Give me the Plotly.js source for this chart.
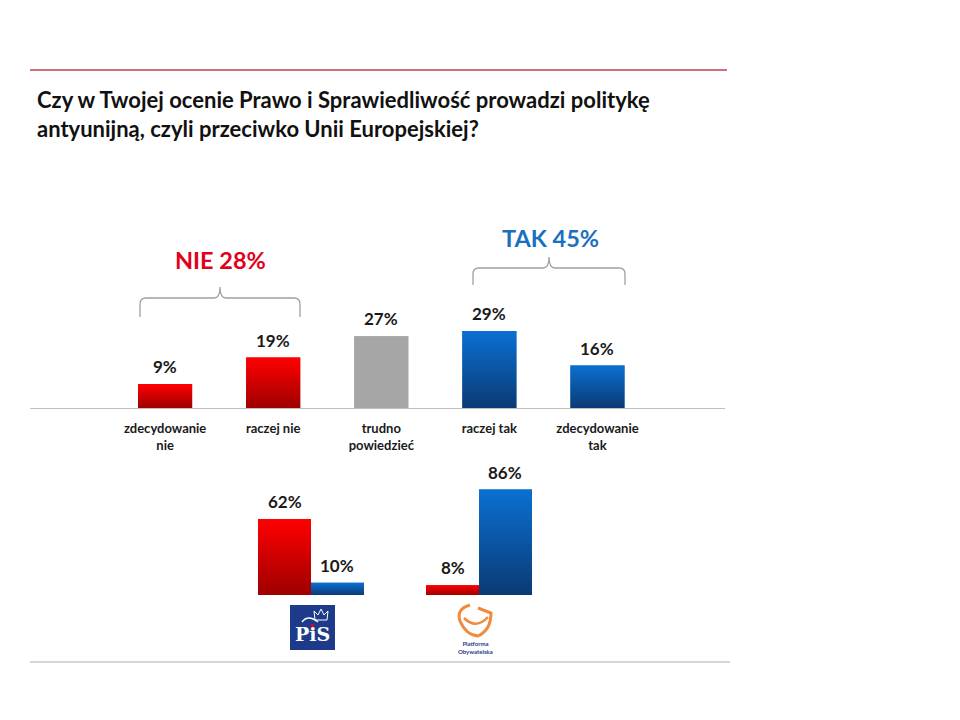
<!DOCTYPE html>
<html>
<head>
<meta charset="utf-8">
<script src="https://cdn.plot.ly/plotly-3.0.1.min.js"></script>
<style>html,body{margin:0;padding:0;background:#fff;}#chart{width:960px;height:720px;}</style>
</head>
<body>
<div id="chart"></div>
<script>
// ---- data ----
const categories = ['zdecydowanie<br>nie', 'raczej nie', 'trudno<br>powiedzieć', 'raczej tak', 'zdecydowanie<br>tak'];
const values = [9, 19, 27, 29, 16];
const barKinds = ['nie', 'nie', 'neutral', 'tak', 'tak'];
const groupLabels = ['NIE 28%', 'TAK 45%'];
const parties = ['PiS', 'PO'];
const nieByParty = [62, 8];
const takByParty = [10, 86];
const titleText = 'Czy w Twojej ocenie Prawo i Sprawiedliwość prowadzi politykę<br>antyunijną, czyli przeciwko Unii Europejskiej?';

// ---- helpers (pixel -> paper) ----
const W = 960, H = 720;
const px = x => x / W;
const py = y => 1 - y / H;
const FONT = 'Lato, "Open Sans", sans-serif';
const RED = '#D20008', BLUE = '#0A5AAA', GREY = '#A0A0A0';
const kindColor = {nie: RED, tak: BLUE, neutral: '#A6A6A6'};
const kindScale = {
  nie: [[0, '#9E0000'], [1, '#FF0000']],
  tak: [[0, '#0B3A74'], [1, '#0A70D2']],
  neutral: null
};

const idx = categories.map((c, i) => i);
const topW = 0.5;
const bargap = 0.37;
const subW = (1 - bargap) / 2;
const half = subW / 2;

const traces = [
  {type: 'bar', x: idx, y: values, width: topW, marker: {color: barKinds.map(k => kindColor[k])}, xaxis: 'x', yaxis: 'y', hoverinfo: 'skip', showlegend: false},
  {type: 'bar', name: 'NIE', x: [0, 1], y: nieByParty, marker: {color: RED}, xaxis: 'x2', yaxis: 'y2', hoverinfo: 'skip', showlegend: false},
  {type: 'bar', name: 'TAK', x: [0, 1], y: takByParty, marker: {color: BLUE}, xaxis: 'x2', yaxis: 'y2', hoverinfo: 'skip', showlegend: false}
];

// gradient overlays built from the same data
function gradBar(cx, w, v, kind, xa, ya) {
  const scale = kindScale[kind];
  const t = {type: 'scatter', mode: 'none', fill: 'toself', hoverinfo: 'skip', showlegend: false,
    x: [cx - w / 2, cx + w / 2, cx + w / 2, cx - w / 2, cx - w / 2], y: [0, 0, v, v, 0], xaxis: xa, yaxis: ya};
  if (scale) t.fillgradient = {type: 'vertical', colorscale: scale};
  else t.fillcolor = kindColor[kind];
  return t;
}
values.forEach((v, i) => traces.push(gradBar(i, topW, v, barKinds[i], 'x', 'y')));
parties.forEach((p, i) => {
  traces.push(gradBar(i - half, subW, nieByParty[i], 'nie', 'x2', 'y2'));
  traces.push(gradBar(i + half, subW, takByParty[i], 'tak', 'x2', 'y2'));
});

const lblFont = {family: FONT, size: 17, weight: 700, color: '#1a1a1a'};
const annotations = [];
values.forEach((v, i) => annotations.push({
  x: i, y: v, xref: 'x', yref: 'y', text: v + '%', showarrow: false, xanchor: 'center',
  yanchor: 'bottom', yshift: 5, font: lblFont
}));
parties.forEach((p, i) => {
  annotations.push({x: i - half, y: nieByParty[i], xref: 'x2', yref: 'y2', text: nieByParty[i] + '%', showarrow: false,
    xanchor: 'center', yanchor: 'bottom', yshift: 5, font: lblFont});
  annotations.push({x: i + half, y: takByParty[i], xref: 'x2', yref: 'y2', text: takByParty[i] + '%', showarrow: false,
    xanchor: 'center', yanchor: 'bottom', yshift: 5, font: lblFont});
});
// group labels
annotations.push({x: px(220), y: py(260), xref: 'paper', yref: 'paper', xanchor: 'center', yanchor: 'middle', text: groupLabels[0], showarrow: false,
  font: {family: FONT, size: 23.5, weight: 700, color: '#E3001B'}});
annotations.push({x: px(550), y: py(238), xref: 'paper', yref: 'paper', xanchor: 'center', yanchor: 'middle', text: groupLabels[1], showarrow: false,
  font: {family: FONT, size: 23.5, weight: 700, color: '#1A6FBF'}});
// PiS logo text
annotations.push({x: px(312.5), y: py(634), xref: 'paper', yref: 'paper', xanchor: 'center', yanchor: 'middle', text: 'PiS', showarrow: false,
  font: {family: '"DejaVu Serif", serif', size: 19, weight: 700, color: '#ffffff'}});
// PO logo text
annotations.push({x: px(475), y: py(647), xref: 'paper', yref: 'paper', xanchor: 'center', yanchor: 'middle', text: 'Platforma<br>Obywatelska', showarrow: false,
  font: {family: FONT, size: 6, weight: 700, color: '#2B3A8C'}});

function brace(x0, x1, yTop, yMid, yEnd) {
  const xm = (x0 + x1) / 2, r = 6;
  return 'M ' + px(x0) + ' ' + py(yEnd) +
    ' L ' + px(x0) + ' ' + py(yMid + r) +
    ' Q ' + px(x0) + ' ' + py(yMid) + ' ' + px(x0 + r) + ' ' + py(yMid) +
    ' L ' + px(xm - r) + ' ' + py(yMid) +
    ' Q ' + px(xm) + ' ' + py(yMid) + ' ' + px(xm) + ' ' + py(yTop) +
    ' Q ' + px(xm) + ' ' + py(yMid) + ' ' + px(xm + r) + ' ' + py(yMid) +
    ' L ' + px(x1 - r) + ' ' + py(yMid) +
    ' Q ' + px(x1) + ' ' + py(yMid) + ' ' + px(x1) + ' ' + py(yMid + r) +
    ' L ' + px(x1) + ' ' + py(yEnd);
}
function poly(pts) {
  return pts.map((p, i) => (i ? ' L ' : 'M ') + px(p[0]) + ' ' + py(p[1])).join('');
}

const shapes = [
  {type: 'line', xref: 'paper', yref: 'paper', x0: px(30), x1: px(727), y0: py(70), y1: py(70), line: {color: '#C0404F', width: 1.5}},
  {type: 'line', xref: 'paper', yref: 'paper', x0: px(30), x1: px(730), y0: py(662), y1: py(662), line: {color: '#C8C8C8', width: 1.5}},
  {type: 'path', xref: 'paper', yref: 'paper', path: brace(140, 300, 287, 298, 317), line: {color: GREY, width: 1.3}},
  {type: 'path', xref: 'paper', yref: 'paper', path: brace(473, 625, 257, 268, 285), line: {color: GREY, width: 1.3}},
  // PiS logo box
  {type: 'rect', xref: 'paper', yref: 'paper', x0: px(290), x1: px(335), y0: py(650), y1: py(605), fillcolor: '#1E3A8A', line: {width: 0}},
  // crown
  {type: 'path', xref: 'paper', yref: 'paper',
    path: poly([[315, 620], [314, 611], [318, 615], [321, 609], [324, 615], [328, 611], [327, 620]]) + ' Z',
    fillcolor: 'rgba(0,0,0,0)', line: {color: '#ffffff', width: 1}},
  // eagle wing swoosh
  {type: 'path', xref: 'paper', yref: 'paper',
    path: 'M ' + px(302) + ' ' + py(622) + ' Q ' + px(308) + ' ' + py(614) + ' ' + px(318) + ' ' + py(622),
    fillcolor: 'rgba(0,0,0,0)', line: {color: '#ffffff', width: 1.5}},
  // red accent on i
  {type: 'rect', xref: 'paper', yref: 'paper', x0: px(311), x1: px(314), y0: py(627), y1: py(624), fillcolor: '#E3001B', line: {width: 0}},
  // PO swirl
  {type: 'path', xref: 'paper', yref: 'paper',
    path: 'M ' + px(470) + ' ' + py(605) + ' Q ' + px(456) + ' ' + py(609) + ' ' + px(460) + ' ' + py(621) +
      ' Q ' + px(466) + ' ' + py(635) + ' ' + px(478) + ' ' + py(636) + ' Q ' + px(491) + ' ' + py(630) + ' ' + px(491) + ' ' + py(613) +
      ' L ' + px(478) + ' ' + py(608),
    fillcolor: 'rgba(0,0,0,0)', line: {color: '#F08A3C', width: 3}},
  {type: 'path', xref: 'paper', yref: 'paper',
    path: 'M ' + px(464) + ' ' + py(618) + ' Q ' + px(476) + ' ' + py(630) + ' ' + px(488) + ' ' + py(617),
    fillcolor: 'rgba(0,0,0,0)', line: {color: '#F08A3C', width: 2.5}}
];

const layout = {
  width: W, height: H,
  margin: {l: 0, r: 0, t: 0, b: 0},
  paper_bgcolor: '#ffffff', plot_bgcolor: 'rgba(0,0,0,0)',
  showlegend: false,
  bargap: bargap, bargroupgap: 0, barmode: 'group',
  title: {text: titleText, x: px(37), xanchor: 'left', y: py(108), yanchor: 'top',
    font: {family: FONT, size: 22, weight: 700, color: '#111111'}},
  xaxis: {domain: [px(30), px(725)], range: [-1.25, 5.18], tickmode: 'array', tickvals: idx, ticktext: categories,
    showgrid: false, zeroline: false, showline: true, linecolor: '#BFBFBF', linewidth: 1.2, ticks: '',
    ticklabelstandoff: 8, tickfont: {family: FONT, size: 13, weight: 700, color: '#1a1a1a'}, fixedrange: true},
  yaxis: {domain: [py(408), py(200)], range: [0, 78.3], visible: false, fixedrange: true},
  xaxis2: {domain: [px(227), px(563)], range: [-0.5, 1.5], visible: false, anchor: 'y2', fixedrange: true},
  yaxis2: {domain: [py(595), py(480)], range: [0, 93.8], visible: false, anchor: 'x2', fixedrange: true},
  annotations: annotations,
  shapes: shapes
};

Plotly.newPlot('chart', traces, layout, {displayModeBar: false, staticPlot: true});
</script>
</body>
</html>
